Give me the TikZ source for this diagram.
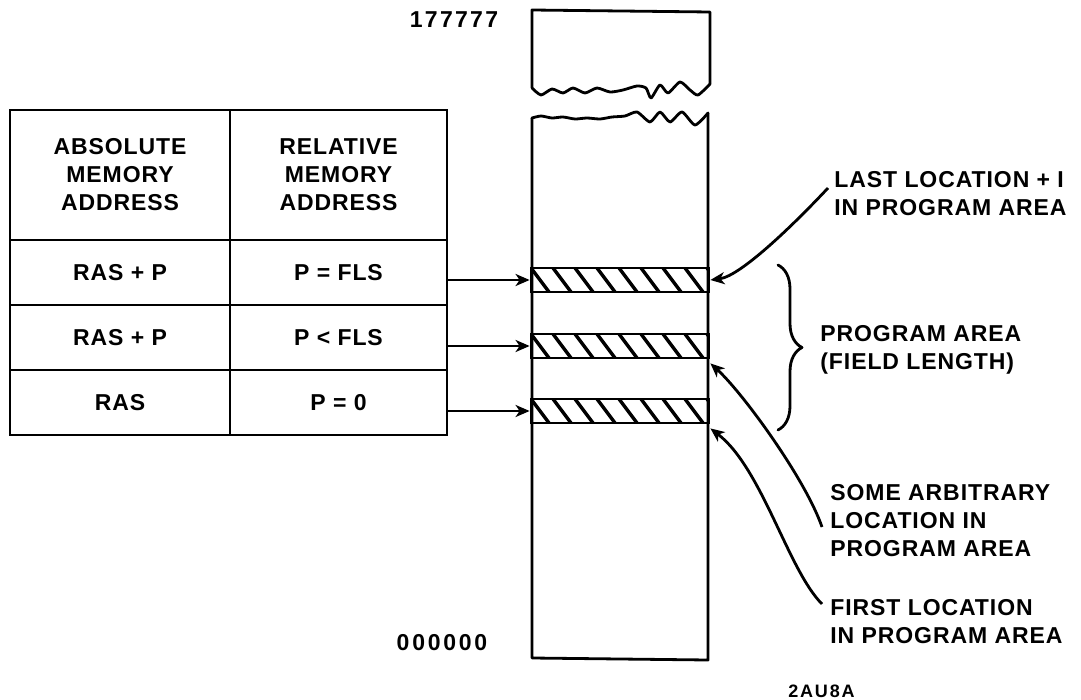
\documentclass[tikz,border=0pt]{standalone}
\usepackage{fontspec}
\setmainfont{Liberation Sans}[LetterSpace=4]
\usetikzlibrary{arrows.meta,positioning,decorations.pathreplacing}
\newcommand{\mmfont}{\fontsize{11.5}{14}\selectfont\bfseries}
\tikzstyle{mmline}=[line width=1.4pt,line join=round,line cap=round]
\tikzstyle{mmcell}=[draw,line width=1.4pt,inner sep=0pt,align=center,font=\mmfont]
\tikzstyle{mmlabel}=[inner sep=0pt,align=left,font=\mmfont]
\tikzstyle{mmarrow}=[-{Stealth[length=7pt,width=6pt,inset=2pt]},line width=1.4pt]
\tikzstyle{mmband}=[draw,line width=1.4pt,minimum width=89pt,minimum height=12pt,inner sep=0pt,
  path picture={\foreach \k in {0,...,8}
    {\draw[line width=1.7pt] ([xshift=\k*11pt]path picture bounding box.north west) -- ++(9pt,-12pt);}}]
\begin{document}
\begin{tikzpicture}[x=0.5pt,y=-0.5pt]
    \useasboundingbox (0,0) rectangle (1081,700);

    % ---- address table ----
    \node[mmcell,minimum width=110pt,minimum height=65pt] (abshead) at (120,175) {ABSOLUTE\\MEMORY\\ADDRESS};
    \node[mmcell,minimum width=108.5pt,minimum height=65pt] (relhead) at (338.5,175) {RELATIVE\\MEMORY\\ADDRESS};
    \node[mmcell,minimum width=110pt,minimum height=32.5pt] (abs1) at (120,272.5) {RAS + P};
    \node[mmcell,minimum width=108.5pt,minimum height=32.5pt] (rel1) at (338.5,272.5) {P = FLS};
    \node[mmcell,minimum width=110pt,minimum height=32.5pt] (abs2) at (120,337.5) {RAS + P};
    \node[mmcell,minimum width=108.5pt,minimum height=32.5pt] (rel2) at (338.5,337.5) {P < FLS};
    \node[mmcell,minimum width=110pt,minimum height=32.5pt] (abs3) at (120,402.5) {RAS};
    \node[mmcell,minimum width=108.5pt,minimum height=32.5pt] (rel3) at (338.5,402.5) {P = 0};

    % ---- memory column with break ----
    \draw[mmline] plot[smooth,tension=0.4] coordinates {(532,88) (541,95) (552,89) (563,93) (573,88)
      (585,93) (597,88) (610,92) (623,90) (637,86) (646,88) (651,98) (660,85) (668,93) (680,82)
      (690,90) (698,95) (710,84)};
    \draw[mmline] (532,88) -- (532,10) -- (710,12) -- (710,84);
    \draw[mmline] plot[smooth,tension=0.4] coordinates {(532,118) (541,116) (552,118) (563,117) (575,119)
      (587,118) (600,119) (612,117) (625,116) (637,112) (650,122) (660,112) (670,122) (682,112)
      (695,125) (708,113)};
    \draw[mmline] (532,118) -- (532,658) -- (708,660) -- (708,113);
    \node[mmlabel,font=\mmfont\addfontfeature{LetterSpace=10}] (top) at (454,20) {177777};
    \node[mmlabel,font=\mmfont\addfontfeature{LetterSpace=12}] (bot) at (442,643) {000000};

    % ---- hatched locations ----
    \node[mmband] (band1) at (620,280) {};
    \node[mmband] (band2) at (620,346) {};
    \node[mmband] (band3) at (620,411) {};
    \foreach \r in {1,2,3} {\draw[mmarrow] (rel\r.east |- band\r.west) -- (band\r.west);}

    % ---- program area ----
    \draw[mmline,decorate,decoration={brace,amplitude=12pt}] (778,265) -- (778,430);
    \node[mmlabel,anchor=west] (arealbl) at (820,350) {PROGRAM AREA\\(FIELD LENGTH)};

    % ---- callouts ----
    \node[mmlabel,anchor=west] (lastlbl) at (834,194) {LAST LOCATION + I\\IN PROGRAM AREA};
    \node[mmlabel,anchor=west] (somelbl) at (830,521) {SOME ARBITRARY\\LOCATION IN\\PROGRAM AREA};
    \node[mmlabel,anchor=west] (firstlbl) at (830,622) {FIRST LOCATION\\IN PROGRAM AREA};
    \draw[mmarrow] ([xshift=-3pt,yshift=3pt]lastlbl.west) .. controls (800,218) and (742,276) .. (band1.east);
    \draw[mmarrow] ([xshift=-4pt,yshift=-3pt]somelbl.west) .. controls (805,478) and (742,392) .. ([yshift=-2pt]band2.south east);
    \draw[mmarrow] ([xshift=-4pt,yshift=9pt]firstlbl.west) .. controls (788,570) and (762,468) .. ([yshift=-2pt]band3.south east);

    \node[mmlabel,anchor=west,font=\fontsize{9}{11}\selectfont\bfseries\addfontfeature{LetterSpace=10}] (figid) at (788,691) {2AU8A};
  \end{tikzpicture}
\end{document}
